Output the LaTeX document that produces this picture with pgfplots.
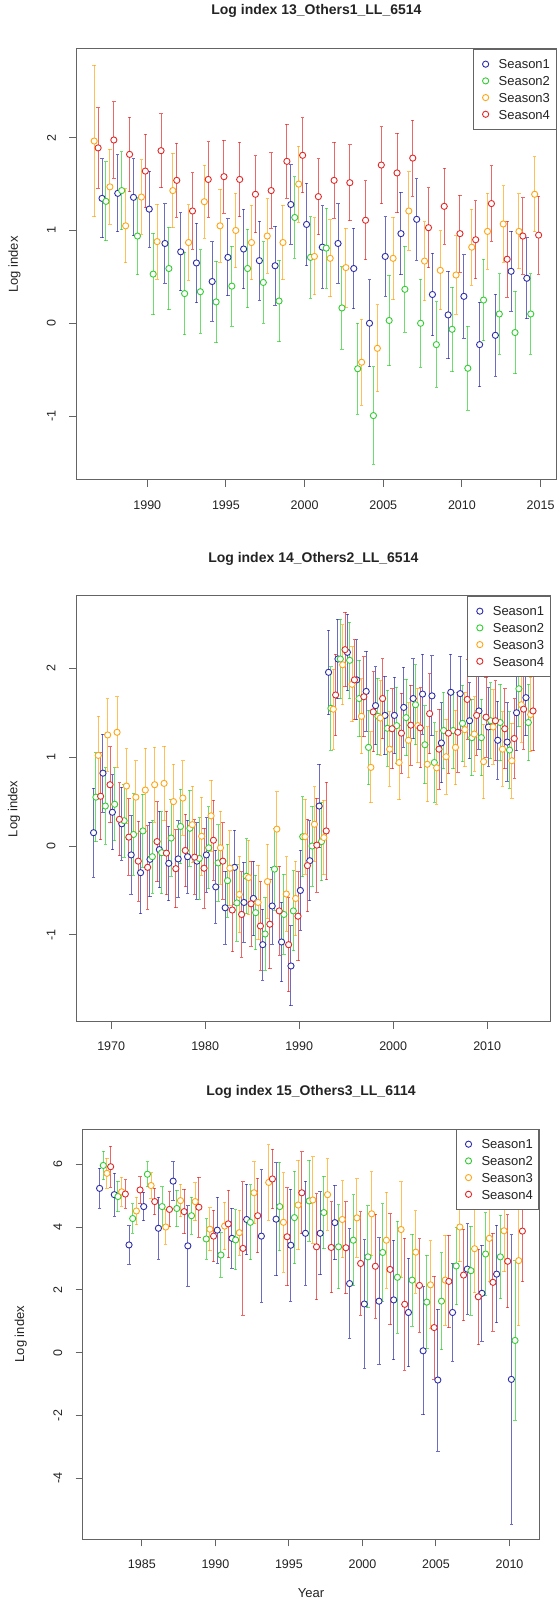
\documentclass[border=0pt]{standalone}
\usepackage{fontspec}
\setmainfont{Liberation Sans}
\usepackage{pgfplots}
\usepackage{pgfplotstable}
\pgfplotsset{compat=1.18}
\definecolor{cA}{RGB}{45,45,170}
\definecolor{cB}{RGB}{50,205,50}
\definecolor{cC}{RGB}{255,165,20}
\definecolor{cD}{RGB}{225,40,40}
\definecolor{axisgray}{RGB}{100,100,100}
\definecolor{txt}{RGB}{35,35,35}
\pgfplotsset{
  panel/.style={
    scale only axis, anchor=south west, clip=false,
    axis line style={draw=axisgray, line width=1bp},
    every tick/.style={draw=axisgray, line width=1bp},
    tick align=outside, major tick length=7bp,
    xtick pos=bottom, ytick pos=left,
    ticklabel style={font=\fontsize{12.5bp}{14bp}\selectfont, text=txt, inner sep=0pt},
    xticklabel style={anchor=center},
    yticklabel style={rotate=90, anchor=center},
    xticklabel shift=18bp, yticklabel shift=18bp,
    title style={at={(axis description cs:0.5,1)}, anchor=base, yshift=28bp, font=\fontsize{14bp}{16bp}\selectfont\bfseries, text=txt, inner sep=0pt},
    ylabel style={at={([xshift=-62bp]axis description cs:0,0.5)}, anchor=center, rotate=0, font=\fontsize{13bp}{15bp}\selectfont, text=txt, inner sep=0pt},
    xlabel style={at={([yshift=-58bp]axis description cs:0.5,0)}, anchor=base, font=\fontsize{13bp}{15bp}\selectfont, text=txt, inner sep=0pt},
    ylabel={Log index},
    legend cell align=left,
    legend image code/.code={\path[draw=none,fill=none] (0bp,-4bp) rectangle (19bp,4bp);
      \draw[mark repeat=2,mark phase=2,##1] plot coordinates {(0bp,0bp)(6bp,0bp)(12bp,0bp)};},
    legend style={at={(1,1)}, anchor=north east, draw=axisgray, line width=0.9bp, fill=white,
      font=\fontsize{13bp}{15bp}\selectfont, text=txt, inner xsep=6bp, inner ysep=10bp, row sep=7.2bp,
      nodes={inner sep=0pt, text height=9.5bp, text depth=0pt}},
  },
  ser/.style={only marks, mark=*, mark size=3.1bp,
    mark options={draw=#1, fill=white, line width=0.9bp},
    error bars/.cd, y dir=both, y explicit,
    error bar style={draw=#1, line width=1bp, opacity=0.7},
    error mark options={draw=#1, line width=1bp, mark size=1.7bp, rotate=90}},
}
\begin{document}
\begin{tikzpicture}
\path[use as bounding box] (0bp,0bp) rectangle (560bp,1605bp);
% ---------------- Panel 1 ----------------
\begin{axis}[panel, at={(76.4bp,1125bp)}, width=480bp, height=431bp,
  xmin=1985.495, xmax=2016.005, ymin=-1.689, ymax=2.956,
  xtick={1990,1995,2000,2005,2010,2015}, xticklabels={1990,1995,2000,2005,2010,2015},
  ytick={-1,0,1,2}, yticklabels={-1,0,1,2},
  title={Log index 13\_Others1\_LL\_6514}]
\addplot[ser=cA] table[x=x,y=y,y error=e] {
x y e
1987.125 1.346 0.425
1988.125 1.40 0.415
1989.125 1.357 0.415
1990.125 1.23 0.41
1991.125 0.86 0.43
1992.125 0.77 0.42
1993.125 0.65 0.43
1994.125 0.45 0.43
1995.125 0.71 0.415
1996.125 0.80 0.43
1997.125 0.675 0.425
1998.125 0.62 0.425
1999.125 1.28 0.43
2000.125 1.065 0.445
2001.125 0.82 0.445
2002.125 0.86 0.43
2003.125 0.59 0.435
2004.125 0.0 0.47
2005.125 0.72 0.43
2006.125 0.966 0.445
2007.125 1.12 0.44
2008.125 0.31 0.445
2009.125 0.09 0.47
2010.125 0.29 0.45
2011.125 -0.23 0.455
2012.125 -0.13 0.44
2013.125 0.56 0.43
2014.125 0.485 0.435
};
\addplot[ser=cB] table[x=x,y=y,y error=e] {
x y e
1987.375 1.314 0.425
1988.375 1.43 0.42
1989.375 0.94 0.415
1990.375 0.53 0.44
1991.375 0.59 0.445
1992.375 0.32 0.445
1993.375 0.34 0.45
1994.375 0.23 0.44
1995.375 0.40 0.43
1996.375 0.59 0.425
1997.375 0.44 0.44
1998.375 0.24 0.44
1999.375 1.14 0.44
2000.375 0.71 0.44
2001.375 0.81 0.43
2002.375 0.165 0.445
2003.375 -0.49 0.49
2004.375 -0.995 0.525
2005.375 0.03 0.49
2006.375 0.366 0.465
2007.375 0.0 0.475
2008.375 -0.23 0.46
2009.375 -0.065 0.455
2010.375 -0.485 0.455
2011.375 0.25 0.44
2012.375 0.10 0.435
2013.375 -0.10 0.445
2014.375 0.10 0.435
};
\addplot[ser=cC] table[x=x,y=y,y error=e] {
x y e
1986.625 1.964 0.815
1987.625 1.47 0.405
1988.625 1.05 0.40
1989.625 1.36 0.40
1990.625 0.88 0.405
1991.625 1.43 0.40
1992.625 0.87 0.405
1993.625 1.31 0.395
1994.625 1.05 0.395
1995.625 1.00 0.40
1996.625 0.87 0.40
1997.625 0.94 0.40
1998.625 0.87 0.40
1999.625 1.50 0.41
2000.625 0.72 0.415
2001.625 0.70 0.415
2002.625 0.60 0.425
2003.625 -0.42 0.465
2004.625 -0.27 0.47
2005.625 0.70 0.445
2006.625 1.21 0.425
2007.625 0.67 0.425
2008.625 0.57 0.425
2009.625 0.52 0.425
2010.625 0.82 0.41
2011.625 0.99 0.41
2012.625 1.07 0.41
2013.625 0.99 0.405
2014.625 1.39 0.405
};
\addplot[ser=cD] table[x=x,y=y,y error=e] {
x y e
1986.875 1.89 0.435
1987.875 1.975 0.41
1988.875 1.82 0.40
1989.875 1.64 0.395
1990.875 1.86 0.40
1991.875 1.54 0.40
1992.875 1.21 0.41
1993.875 1.55 0.405
1994.875 1.58 0.395
1995.875 1.55 0.40
1996.875 1.39 0.415
1997.875 1.43 0.405
1998.875 1.745 0.40
1999.875 1.81 0.405
2000.875 1.365 0.41
2001.875 1.54 0.41
2002.875 1.515 0.41
2003.875 1.11 0.425
2004.875 1.705 0.415
2005.875 1.62 0.43
2006.875 1.78 0.41
2007.875 1.03 0.43
2008.875 1.26 0.41
2009.875 0.966 0.415
2010.875 0.90 0.42
2011.875 1.29 0.405
2012.875 0.69 0.41
2013.875 0.94 0.41
2014.875 0.95 0.42
};
\legend{Season1,Season2,Season3,Season4}
\end{axis}
% ---------------- Panel 2 ----------------
\begin{axis}[panel, at={(76bp,583.3bp)}, width=474.6bp, height=425.7bp,
  xmin=1966.255, xmax=2016.745, ymin=-1.977, ymax=2.814,
  xtick={1970,1980,1990,2000,2010}, xticklabels={1970,1980,1990,2000,2010},
  ytick={-1,0,1,2}, yticklabels={-1,0,1,2},
  title={Log index 14\_Others2\_LL\_6514}]
\addplot[ser=cA] table[x=x,y=y,y error=e] {
x y e
1968.125 0.15 0.50
1969.125 0.82 0.44
1970.125 0.38 0.42
1971.125 0.25 0.41
1972.125 -0.10 0.44
1973.125 -0.30 0.46
1974.125 -0.15 0.42
1975.125 -0.04 0.43
1976.125 -0.195 0.42
1977.125 -0.145 0.43
1978.125 -0.12 0.41
1979.125 -0.17 0.43
1980.125 -0.10 0.42
1981.125 -0.46 0.41
1982.125 -0.695 0.41
1983.125 -0.24 0.42
1984.125 -0.635 0.45
1985.125 -0.59 0.42
1986.125 -1.11 0.40
1987.125 -0.675 0.43
1988.125 -1.08 0.45
1989.125 -1.35 0.45
1990.125 -0.50 0.45
1991.125 -0.165 0.45
1992.125 0.45 0.47
1993.125 1.955 0.475
1994.125 2.105 0.45
1995.125 2.18 0.43
1996.125 1.87 0.45
1997.125 1.74 0.45
1998.125 1.58 0.44
1999.125 1.47 0.44
2000.125 1.47 0.43
2001.125 1.56 0.45
2002.125 1.66 0.45
2003.125 1.71 0.45
2004.125 1.69 0.45
2005.125 1.16 0.45
2006.125 1.73 0.43
2007.125 1.715 0.42
2008.125 1.41 0.43
2009.125 1.52 0.43
2010.125 1.34 0.44
2011.125 1.19 0.44
2012.125 1.17 0.44
2013.125 1.50 0.43
2014.125 1.67 0.43
};
\addplot[ser=cB] table[x=x,y=y,y error=e] {
x y e
1968.375 0.55 0.50
1969.375 0.45 0.43
1970.375 0.47 0.41
1971.375 0.285 0.41
1972.375 0.13 0.46
1973.375 0.17 0.41
1974.375 -0.12 0.41
1975.375 -0.075 0.46
1976.375 0.09 0.43
1977.375 0.22 0.42
1978.375 0.20 0.43
1979.375 -0.14 0.46
1980.375 -0.02 0.46
1981.375 -0.19 0.43
1982.375 -0.39 0.41
1983.375 -0.64 0.43
1984.375 -0.34 0.42
1985.375 -0.75 0.42
1986.375 -0.99 0.41
1987.375 -0.26 0.46
1988.375 -0.77 0.45
1989.375 -0.73 0.45
1990.375 0.105 0.45
1991.375 0.0 0.45
1992.375 0.05 0.44
1993.375 1.55 0.47
1994.375 2.105 0.45
1995.375 2.09 0.43
1996.375 1.66 0.43
1997.375 1.11 0.42
1998.375 1.46 0.43
1999.375 1.325 0.43
2000.375 1.355 0.43
2001.375 1.445 0.43
2002.375 1.59 0.45
2003.375 1.14 0.44
2004.375 0.94 0.45
2005.375 1.30 0.43
2006.375 1.30 0.43
2007.375 1.38 0.43
2008.375 1.22 0.43
2009.375 1.22 0.43
2010.375 1.41 0.43
2011.375 1.39 0.43
2012.375 1.08 0.43
2013.375 1.77 0.43
2014.375 1.39 0.43
};
\addplot[ser=cC] table[x=x,y=y,y error=e] {
x y e
1968.625 1.02 0.44
1969.625 1.25 0.41
1970.625 1.28 0.40
1971.625 0.675 0.42
1972.625 0.55 0.41
1973.625 0.63 0.47
1974.625 0.69 0.42
1975.625 0.705 0.42
1976.625 0.50 0.42
1977.625 0.54 0.42
1978.625 0.24 0.43
1979.625 0.11 0.44
1980.625 0.34 0.40
1981.625 -0.02 0.41
1982.625 -0.25 0.42
1983.625 -0.545 0.43
1984.625 -0.355 0.42
1985.625 -0.635 0.42
1986.625 -0.40 0.42
1987.625 0.19 0.42
1988.625 -0.54 0.42
1989.625 -0.59 0.42
1990.625 0.105 0.42
1991.625 0.245 0.42
1992.625 0.095 0.42
1993.625 1.54 0.45
1994.625 2.04 0.45
1995.625 1.82 0.42
1996.625 1.46 0.42
1997.625 0.885 0.40
1998.625 1.44 0.42
1999.625 1.09 0.42
2000.625 0.94 0.42
2001.625 1.19 0.42
2002.625 1.355 0.42
2003.625 0.92 0.42
2004.625 0.88 0.41
2005.625 1.005 0.42
2006.625 1.11 0.42
2007.625 1.31 0.42
2008.625 1.26 0.42
2009.625 0.95 0.42
2010.625 1.34 0.42
2011.625 1.09 0.42
2012.625 0.96 0.42
2013.625 1.59 0.42
2014.625 1.48 0.42
};
\addplot[ser=cD] table[x=x,y=y,y error=e] {
x y e
1968.875 0.56 0.49
1969.875 0.69 0.43
1970.875 0.30 0.41
1971.875 0.10 0.43
1972.875 -0.17 0.45
1973.875 -0.24 0.47
1974.875 0.05 0.45
1975.875 -0.08 0.47
1976.875 -0.255 0.44
1977.875 -0.05 0.41
1978.875 -0.125 0.42
1979.875 -0.25 0.45
1980.875 0.065 0.45
1981.875 -0.17 0.43
1982.875 -0.72 0.47
1983.875 -0.77 0.48
1984.875 -0.65 0.48
1985.875 -0.90 0.50
1986.875 -0.88 0.50
1987.875 -0.73 0.50
1988.875 -1.11 0.53
1989.875 -0.79 0.50
1990.875 -0.22 0.52
1991.875 0.01 0.53
1992.875 0.17 0.55
1993.875 1.70 0.46
1994.875 2.21 0.42
1995.875 1.87 0.45
1996.875 1.68 0.45
1997.875 1.51 0.45
1998.875 1.66 0.45
1999.875 1.32 0.45
2000.875 1.27 0.45
2001.875 1.36 0.45
2002.875 1.33 0.45
2003.875 1.49 0.45
2004.875 1.09 0.45
2005.875 1.27 0.45
2006.875 1.28 0.45
2007.875 1.65 0.45
2008.875 1.47 0.45
2009.875 1.45 0.45
2010.875 1.41 0.45
2011.875 1.32 0.45
2012.875 1.21 0.45
2013.875 1.54 0.45
2014.875 1.52 0.45
};
\legend{Season1,Season2,Season3,Season4}
\end{axis}
% ---------------- Panel 3 ----------------
\begin{axis}[panel, at={(82.7bp,65.7bp)}, width=456.6bp, height=410.3bp,
  xmin=1980.975, xmax=2012.025, ymin=-5.94, ymax=7.12,
  xtick={1985,1990,1995,2000,2005,2010}, xticklabels={1985,1990,1995,2000,2005,2010},
  ytick={-4,-2,0,2,4,6}, yticklabels={-4,-2,0,2,4,6},
  title={Log index 15\_Others3\_LL\_6114}, xlabel={Year}]
\addplot[ser=cA] table[x=x,y=y,y error=e] {
x y e
1982.125 5.23 0.64
1983.125 5.03 0.68
1984.125 3.43 0.615
1985.125 4.65 0.45
1986.125 3.96 0.985
1987.125 5.46 0.61
1988.125 3.40 1.28
1990.125 3.90 1.055
1991.125 3.64 0.955
1992.125 4.24 1.12
1993.125 3.71 2.11
1994.125 4.25 1.795
1995.125 3.42 1.78
1996.125 3.80 1.655
1997.125 3.80 1.315
1998.125 4.14 1.185
1999.125 2.20 1.74
2000.125 1.55 2.045
2001.125 1.64 2.015
2002.125 1.68 1.90
2003.125 1.28 1.72
2004.125 0.06 2.035
2005.125 -0.87 2.26
2006.125 1.28 1.545
2007.125 2.66 1.44
2008.125 1.89 1.53
2009.125 2.50 1.555
2010.125 -0.85 4.61
};
\addplot[ser=cB] table[x=x,y=y,y error=e] {
x y e
1982.375 5.96 0.45
1983.375 4.97 0.49
1984.375 4.27 0.465
1985.375 5.68 0.40
1986.375 4.65 0.635
1987.375 4.59 0.585
1988.375 4.36 0.59
1989.375 3.62 0.65
1990.375 3.11 0.715
1991.375 3.59 0.955
1992.375 4.15 1.195
1994.375 4.65 1.405
1995.375 4.30 1.475
1996.375 4.83 1.29
1997.375 4.46 1.15
1998.375 3.37 1.335
1999.375 3.58 1.45
2000.375 3.05 1.62
2001.375 3.19 1.555
2002.375 2.40 1.785
2003.375 2.31 1.465
2004.375 1.61 1.485
2005.375 1.64 1.54
2006.375 2.76 1.235
2007.375 2.61 1.415
2008.375 3.14 1.31
2009.375 3.05 1.33
2010.375 0.39 2.535
};
\addplot[ser=cC] table[x=x,y=y,y error=e] {
x y e
1982.625 5.71 0.48
1983.625 5.12 0.46
1984.625 4.51 0.435
1985.625 5.32 0.40
1986.625 4.00 0.555
1987.625 4.84 0.52
1988.625 4.81 0.605
1989.625 3.93 0.69
1990.625 4.03 0.76
1991.625 3.82 0.715
1992.625 5.09 0.99
1993.625 5.42 1.205
1994.625 4.15 1.585
1995.625 4.70 1.43
1996.625 4.86 1.37
1997.625 5.03 1.14
1998.625 4.24 1.225
1999.625 4.29 1.25
2000.625 4.42 1.34
2001.625 3.58 1.525
2002.625 3.92 1.525
2003.625 3.20 1.315
2004.625 2.16 1.40
2005.625 2.31 1.435
2006.625 4.00 1.11
2007.625 3.31 1.395
2008.625 3.64 1.38
2009.625 3.88 1.30
2010.625 2.93 2.07
};
\addplot[ser=cD] table[x=x,y=y,y error=e] {
x y e
1982.875 5.92 0.65
1983.875 5.05 0.455
1984.875 5.18 0.425
1985.875 4.81 0.425
1986.875 4.56 0.555
1987.875 4.49 0.71
1988.875 4.63 0.96
1989.875 3.71 0.82
1990.875 4.10 1.075
1991.875 3.32 2.125
1992.875 4.36 1.185
1993.875 5.53 0.95
1994.875 3.69 1.56
1995.875 5.09 1.31
1996.875 3.37 1.685
1997.875 3.35 1.45
1998.875 3.34 1.47
1999.875 2.84 1.645
2000.875 2.75 1.655
2001.875 2.65 1.765
2002.875 1.54 2.095
2003.875 2.14 1.485
2004.875 0.80 1.64
2005.875 2.27 1.47
2006.875 2.47 1.46
2007.875 1.78 1.52
2008.875 2.24 1.555
2009.875 2.91 1.48
2010.875 3.87 1.62
};
\legend{Season1,Season2,Season3,Season4}
\end{axis}
\end{tikzpicture}
\end{document}
